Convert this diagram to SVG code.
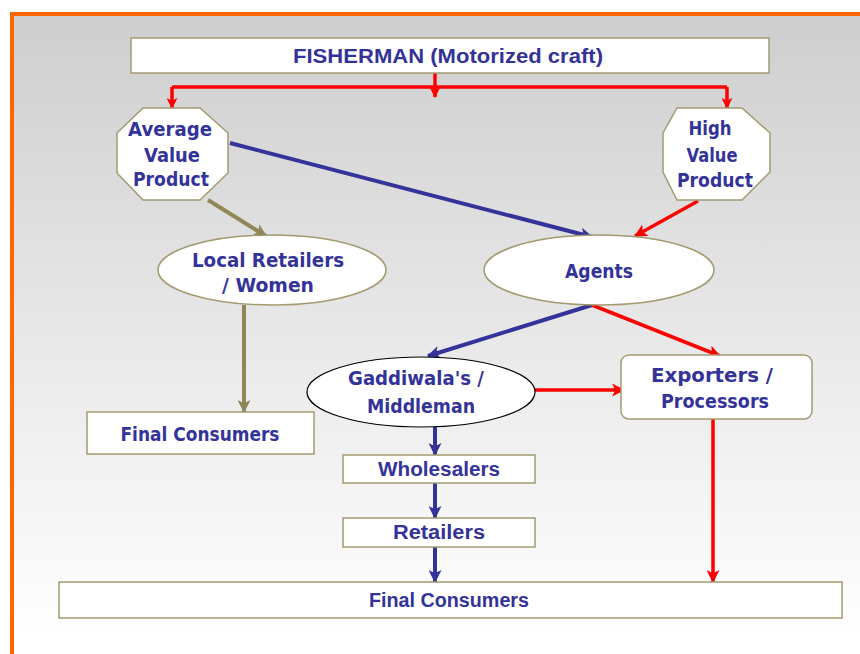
<svg xmlns="http://www.w3.org/2000/svg" width="860" height="654" viewBox="0 0 860 654">
<defs>
<linearGradient id="bg" x1="0" y1="16" x2="0" y2="640" gradientUnits="userSpaceOnUse">
<stop offset="0" stop-color="#cecece"/>
<stop offset="0.55" stop-color="#eaeaea"/>
<stop offset="1" stop-color="#ffffff"/>
</linearGradient>
<marker id="ab" viewBox="0 0 12 12" refX="11" refY="6" markerWidth="13" markerHeight="13" markerUnits="userSpaceOnUse" orient="auto"><path d="M0,0 L12,6 L0,12 L3,6 z" fill="#333399"/></marker>
<marker id="ar" viewBox="0 0 12 12" refX="11" refY="6" markerWidth="13" markerHeight="13" markerUnits="userSpaceOnUse" orient="auto"><path d="M0,0 L12,6 L0,12 L3,6 z" fill="#ff0000"/></marker>
<marker id="ars" viewBox="0 0 12 12" refX="11" refY="6" markerWidth="11" markerHeight="11" markerUnits="userSpaceOnUse" orient="auto"><path d="M0,0 L12,6 L0,12 L3,6 z" fill="#ff0000"/></marker>
<marker id="ao" viewBox="0 0 12 12" refX="11" refY="6" markerWidth="13" markerHeight="13" markerUnits="userSpaceOnUse" orient="auto"><path d="M0,0 L12,6 L0,12 L3,6 z" fill="#8f8758"/></marker>
<style>
.n{fill:#ffffff;stroke:#a39a70;stroke-width:1.5}
.t{font-family:"DejaVu Sans","Liberation Sans",sans-serif;font-weight:bold;font-size:19px;fill:#333399;text-anchor:middle}
.c{font-family:"Liberation Sans","DejaVu Sans",sans-serif;font-weight:bold;font-size:20px;fill:#333399;text-anchor:middle}
.b{fill:none;stroke:#333399;stroke-width:4}
.r{fill:none;stroke:#ff0000;stroke-width:3.5}
.o{fill:none;stroke:#8f8758;stroke-width:4}
</style>
</defs>
<rect x="0" y="0" width="860" height="654" fill="#ffffff"/>
<rect x="14" y="16" width="846" height="638" fill="url(#bg)"/>
<rect x="10" y="12" width="850" height="4" fill="#ff6600"/>
<rect x="10" y="12" width="4" height="642" fill="#ff6600"/>

<g id="connectors">
<path class="r" d="M172,87 H727" stroke-width="1.5"/>
<path class="r" d="M435,73 V97" stroke-width="3" marker-end="url(#ars)"/>
<path class="r" d="M172,87 V108" stroke-width="2.5" marker-end="url(#ars)"/>
<path class="r" d="M727,87 V108" stroke-width="2.5" marker-end="url(#ars)"/>
<path class="b" d="M230,143 L592,237" marker-end="url(#ab)"/>
<path class="o" d="M208,200 L266,236" marker-end="url(#ao)"/>
<path class="r" d="M698,201 L635,236" marker-end="url(#ar)"/>
<path class="o" d="M244,305 V412" marker-end="url(#ao)"/>
<path class="b" d="M592,305 L428,356" marker-end="url(#ab)"/>
<path class="r" d="M592,305 L720,356" marker-end="url(#ar)"/>
<path class="r" d="M535,390 H624" marker-end="url(#ar)"/>
<path class="b" d="M435,427 V455" marker-end="url(#ab)"/>
<path class="b" d="M435,483 V518" marker-end="url(#ab)"/>
<path class="b" d="M435,546 V582" marker-end="url(#ab)"/>
<path class="r" d="M713,419 V582" marker-end="url(#ar)"/>
</g>

<g id="fisherman">
<rect class="n" x="131" y="38" width="638" height="35"/>
<text class="c" x="448" y="63" textLength="310" lengthAdjust="spacingAndGlyphs">FISHERMAN (Motorized craft)</text>
</g>

<g id="average">
<polygon class="n" points="143,108 200,108 228,133 228,173 200,200 143,200 117,173 117,133"/>
<text class="t" x="170" y="136" textLength="84" lengthAdjust="spacingAndGlyphs">Average</text>
<text class="t" x="172" y="162" textLength="56" lengthAdjust="spacingAndGlyphs">Value</text>
<text class="t" x="171" y="186" textLength="76" lengthAdjust="spacingAndGlyphs">Product</text>
</g>

<g id="high">
<polygon class="n" points="677,108 742,108 770,133 770,172 742,200 677,200 663,172 663,133"/>
<text class="t" x="710" y="135" textLength="43" lengthAdjust="spacingAndGlyphs">High</text>
<text class="t" x="712" y="162" textLength="51" lengthAdjust="spacingAndGlyphs">Value</text>
<text class="t" x="715" y="187" textLength="76" lengthAdjust="spacingAndGlyphs">Product</text>
</g>

<g id="local">
<ellipse class="n" cx="272" cy="270" rx="114" ry="35"/>
<text class="t" x="268" y="267" textLength="152" lengthAdjust="spacingAndGlyphs">Local Retailers</text>
<text class="t" x="268" y="292" textLength="92" lengthAdjust="spacingAndGlyphs">/ Women</text>
</g>

<g id="agents">
<ellipse class="n" cx="599" cy="270" rx="115" ry="35"/>
<text class="t" x="599" y="278" textLength="68" lengthAdjust="spacingAndGlyphs">Agents</text>
</g>

<g id="gaddiwala">
<ellipse cx="421" cy="392" rx="114" ry="35" fill="#ffffff" stroke="#000000" stroke-width="1.2"/>
<text class="t" x="416" y="385" textLength="136" lengthAdjust="spacingAndGlyphs">Gaddiwala's /</text>
<text class="t" x="421" y="413" textLength="108" lengthAdjust="spacingAndGlyphs">Middleman</text>
</g>

<g id="exporters">
<rect class="n" x="621" y="355" width="191" height="64" rx="8"/>
<text class="t" x="712" y="382" textLength="122" lengthAdjust="spacingAndGlyphs">Exporters /</text>
<text class="t" x="715" y="408" textLength="108" lengthAdjust="spacingAndGlyphs">Processors</text>
</g>

<g id="final-left">
<rect class="n" x="87" y="412" width="227" height="42"/>
<text class="t" x="200" y="441" textLength="159" lengthAdjust="spacingAndGlyphs">Final Consumers</text>
</g>

<g id="wholesalers">
<rect class="n" x="343" y="455" width="192" height="28"/>
<text class="c" x="439" y="476" textLength="122" lengthAdjust="spacingAndGlyphs">Wholesalers</text>
</g>

<g id="retailers">
<rect class="n" x="343" y="518" width="192" height="29"/>
<text class="c" x="439" y="539" textLength="92" lengthAdjust="spacingAndGlyphs">Retailers</text>
</g>

<g id="final-bottom">
<rect class="n" x="59" y="582" width="783" height="36"/>
<text class="c" x="449" y="607" textLength="160" lengthAdjust="spacingAndGlyphs">Final Consumers</text>
</g>
</svg>
